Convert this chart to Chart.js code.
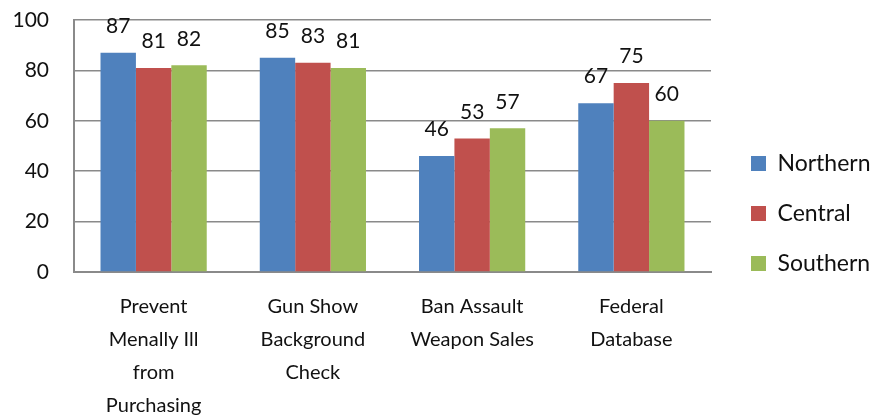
<!DOCTYPE html>
<html>
<head>
<meta charset="utf-8">
<script src="https://cdn.jsdelivr.net/npm/chart.js@4/dist/chart.umd.min.js"></script>
<style>
  html, body { margin: 0; padding: 0; background: #fff; }
  #wrap { width: 879px; height: 419px; }
</style>
</head>
<body>
<div id="wrap"><canvas id="chart"></canvas></div>
<script>
// 数据
const categories = [
    ['Prevent', 'Menally Ill', 'from', 'Purchasing'],
    ['Gun Show', 'Background', 'Check'],
    ['Ban Assault', 'Weapon Sales'],
    ['Federal', 'Database']
];
const northern = [87, 85, 46, 67];
const central = [81, 83, 53, 75];
const southern = [82, 81, 57, 60];
const yTicks = [0, 20, 40, 60, 80, 100];

const FONT = 'Lato, "Open Sans", sans-serif';
const gridColor = '#8a8a8a';

// 柱顶数值标签
const valueLabels = {
    id: 'valueLabels',
    afterDatasetsDraw(chart) {
        const ctx = chart.ctx;
        ctx.save();
        ctx.font = '21px ' + FONT;
        ctx.fillStyle = '#111';
        ctx.textAlign = 'center';
        ctx.textBaseline = 'bottom';
        chart.data.datasets.forEach((ds, i) => {
            chart.getDatasetMeta(i).data.forEach((bar, j) => {
                ctx.fillText(ds.data[j], bar.x, bar.y - 16);
            });
        });
        ctx.restore();
    }
};

// 图例宽度和位置微调
const legendFit = {
    id: 'legendFit',
    afterInit(chart) {
        const legend = chart.legend;
        const fit = legend.fit;
        legend.fit = function () {
            fit.call(this);
            this.width = 168;
        };
    },
    afterLayout(chart) {
        const legend = chart.legend;
        legend.left += 13;
        legend.right += 13;
        legend.top -= 6;
        legend.bottom -= 6;
    }
};

new Chart(document.getElementById('chart').getContext('2d'), {
    type: 'bar',
    data: {
        labels: categories,
        datasets: [
            { label: 'Northern', data: northern, backgroundColor: '#4F81BD' },
            { label: 'Central', data: central, backgroundColor: '#C0504D' },
            { label: 'Southern', data: southern, backgroundColor: '#9BBB59' }
        ]
    },
    options: {
        responsive: true,
        maintainAspectRatio: false,
        animation: false,
        categoryPercentage: 0.667,
        barPercentage: 1.0,
        layout: { padding: { left: 0, right: 0, top: 20, bottom: 0 } },
        plugins: {
            tooltip: { enabled: false },
            legend: {
                position: 'right',
                labels: {
                    boxWidth: 15,
                    boxHeight: 15,
                    padding: 27,
                    color: '#111',
                    font: { family: FONT, size: 23 }
                }
            }
        },
        scales: {
            x: {
                grid: { display: false },
                border: { color: gridColor, width: 2 },
                ticks: {
                    color: '#111',
                    padding: 10,
                    maxRotation: 0,
                    autoSkip: false,
                    font: { family: FONT, size: 20, lineHeight: 1.65 }
                },
                afterFit: s => { s.height = 147; }
            },
            y: {
                min: 0,
                max: 100,
                afterBuildTicks: s => { s.ticks = yTicks.map(v => ({ value: v })); },
                grid: { color: gridColor, lineWidth: 1.5, drawTicks: false },
                border: { color: gridColor, width: 2 },
                ticks: {
                    color: '#111',
                    padding: 25,
                    font: { family: FONT, size: 21 }
                },
                afterFit: s => { s.width = 74; s.paddingTop = 0; s.paddingBottom = 0; }
            }
        }
    },
    plugins: [valueLabels, legendFit]
});
</script>
</body>
</html>
